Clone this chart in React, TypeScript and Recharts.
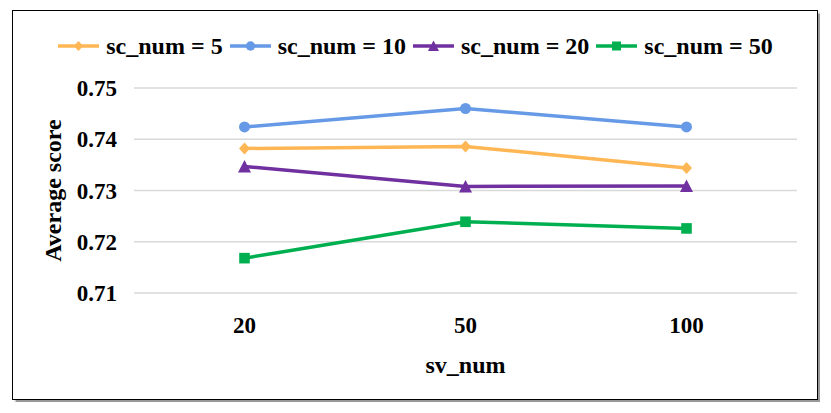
import React from "react";
import { LineChart, Line, XAxis, YAxis, CartesianGrid, Legend } from "recharts";

// sv_num categories on the x axis
const svNum = ["20", "50", "100"];

// average score per sc_num setting
const sc5 = [0.7382, 0.7386, 0.7344];
const sc10 = [0.7424, 0.746, 0.7424];
const sc20 = [0.7347, 0.7308, 0.7309];
const sc50 = [0.7168, 0.7239, 0.7226];

const yTicks = [0.71, 0.72, 0.73, 0.74, 0.75];

const FONT = '"Liberation Serif", "Times New Roman", serif';

type Shape = "diamond" | "circle" | "triangle" | "square";

const SERIES: { key: string; name: string; color: string; shape: Shape; values: number[] }[] = [
  { key: "sc5", name: "sc_num = 5", color: "#FFB655", shape: "diamond", values: sc5 },
  { key: "sc10", name: "sc_num = 10", color: "#6699E6", shape: "circle", values: sc10 },
  { key: "sc20", name: "sc_num = 20", color: "#7030A0", shape: "triangle", values: sc20 },
  { key: "sc50", name: "sc_num = 50", color: "#00B050", shape: "square", values: sc50 },
];

const data = svNum.map((sv, i) => {
  const row: Record<string, string | number> = { sv };
  SERIES.forEach((s) => {
    row[s.key] = s.values[i];
  });
  return row;
});

function Marker({ shape, cx, cy, color, k = 1 }: { shape: Shape; cx: number; cy: number; color: string; k?: number }) {
  if (shape === "circle") return <circle cx={cx} cy={cy} r={5.5 * k} fill={color} />;
  if (shape === "square") {
    const h = 5.3 * k;
    return <rect x={cx - h} y={cy - h} width={h * 2} height={h * 2} fill={color} />;
  }
  if (shape === "triangle") {
    const pts = `${cx},${cy - 6.5 * k} ${cx + 6.5 * k},${cy + 6 * k} ${cx - 6.5 * k},${cy + 6 * k}`;
    return <polygon points={pts} fill={color} />;
  }
  const pts = `${cx},${cy - 6 * k} ${cx + 5.5 * k},${cy} ${cx},${cy + 6 * k} ${cx - 5.5 * k},${cy}`;
  return <polygon points={pts} fill={color} />;
}

function LegendContent() {
  return (
    <div style={{ display: "flex", justifyContent: "center", alignItems: "center", height: 30 }}>
      {SERIES.map((s) => (
        <div key={s.key} style={{ display: "flex", alignItems: "center", margin: "0 3.5px" }}>
          <svg width={41} height={16}>
            <line x1={0} y1={8} x2={41} y2={8} stroke={s.color} strokeWidth={3.5} />
            <Marker shape={s.shape} cx={20.5} cy={8} color={s.color} k={0.85} />
          </svg>
          <span
            style={{
              marginLeft: 7,
              fontFamily: FONT,
              fontWeight: "bold",
              fontSize: 24,
              color: "#000",
              whiteSpace: "nowrap",
            }}
          >
            {s.name}
          </span>
        </div>
      ))}
    </div>
  );
}

function YTitle(props: any) {
  const vb = props.viewBox || {};
  const x = vb.x + 53;
  const y = vb.y + vb.height / 2;
  return (
    <text
      x={x}
      y={y}
      transform={`rotate(-90, ${x}, ${y})`}
      textAnchor="middle"
      dominantBaseline="central"
      style={{ fontFamily: FONT, fontWeight: "bold", fontSize: 24, fill: "#000" }}
    >
      Average score
    </text>
  );
}

function XTitle(props: any) {
  const vb = props.viewBox || {};
  return (
    <text
      x={vb.x + vb.width / 2}
      y={vb.y + 80}
      textAnchor="middle"
      style={{ fontFamily: FONT, fontWeight: "bold", fontSize: 24, fill: "#000" }}
    >
      sv_num
    </text>
  );
}

const tickStyle = { fontFamily: FONT, fontWeight: "bold", fontSize: 23, fill: "#000" };

export default function App() {
  return (
    <div style={{ position: "absolute", left: 0, top: 0, width: 831, height: 413, background: "#fff" }}>
      <div
        style={{
          position: "absolute",
          left: 12,
          top: 10,
          width: 804,
          height: 388,
          border: "1.5px solid #000",
          boxShadow: "1.5px 1.5px 1px #999",
        }}
      />
      <div style={{ position: "absolute", left: 0, top: 0 }}>
        <LineChart width={831} height={413} data={data} margin={{ top: 58, right: 34, bottom: 60, left: 0 }}>
          <CartesianGrid vertical={false} stroke="#D9D9D9" strokeWidth={1.5} />
          <XAxis
            dataKey="sv"
            height={60}
            axisLine={false}
            tickLine={false}
            tickMargin={18}
            padding={{ left: 110.5, right: 110.5 }}
            tick={tickStyle}
            label={XTitle}
          />
          <YAxis
            width={134}
            domain={[0.71, 0.75]}
            ticks={yTicks}
            allowDataOverflow
            axisLine={false}
            tickLine={false}
            tickMargin={11}
            tickFormatter={(v: number) => v.toFixed(2)}
            tick={tickStyle}
            label={YTitle}
          />
          <Legend verticalAlign="top" align="center" content={LegendContent} wrapperStyle={{ top: 31, left: 0, width: 831 }} />
          {SERIES.map((s) => (
            <Line
              key={s.key}
              dataKey={s.key}
              name={s.name}
              stroke={s.color}
              strokeWidth={3.5}
              isAnimationActive={false}
              dot={(p: any) => <Marker key={`${s.key}-${p.index}`} shape={s.shape} cx={p.cx} cy={p.cy} color={s.color} />}
              activeDot={false}
            />
          ))}
        </LineChart>
      </div>
    </div>
  );
}
